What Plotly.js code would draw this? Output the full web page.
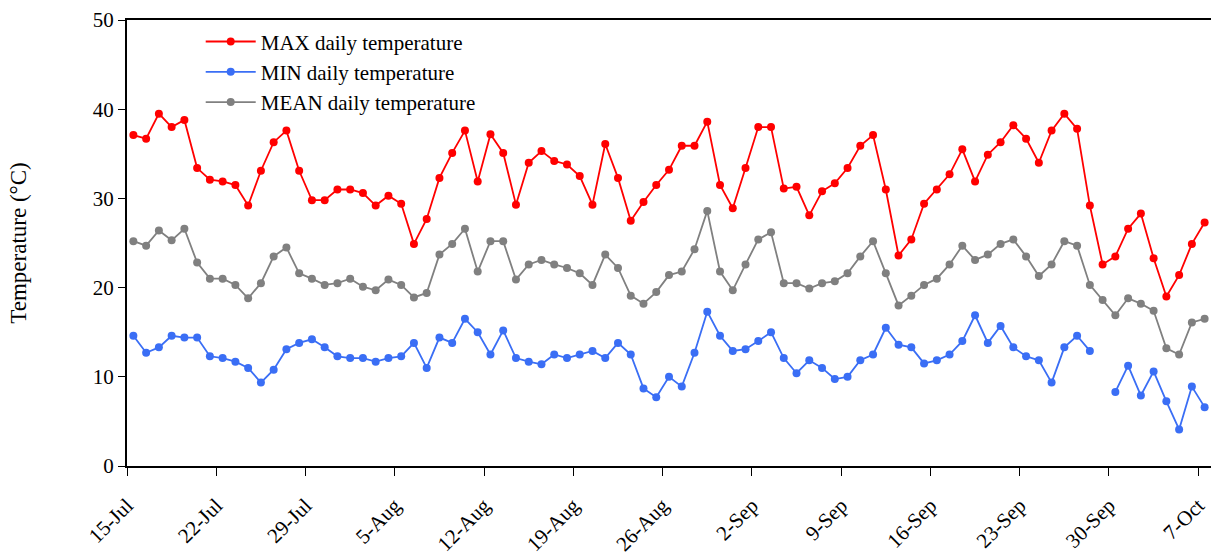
<!DOCTYPE html>
<html>
<head>
<meta charset="utf-8">
<script src="https://cdn.plot.ly/plotly-3.0.1.min.js"></script>
<style>html,body{margin:0;padding:0;background:#fff;}#chart{width:1211px;height:558px;}</style>
</head>
<body>
<div id="chart"></div>
<script>
// Daily series 15-Jul .. 7-Oct (85 days)
const startDate = '2023-07-15';
const nDays = 85;

const maxTemp = [37.1, 36.7, 39.5, 38.0, 38.8, 33.4, 32.1, 31.9, 31.5, 29.2, 33.1, 36.3, 37.6, 33.1, 29.8,
  29.8, 31.0, 31.0, 30.6, 29.2, 30.3, 29.4, 24.9, 27.7, 32.3, 35.1, 37.6, 31.9, 37.2,
  35.1, 29.3, 34.0, 35.3, 34.2, 33.8, 32.5, 29.3, 36.1, 32.3, 27.5, 29.6, 31.5, 33.2,
  35.9, 35.9, 38.6, 31.5, 28.9, 33.4, 38.0, 38.0, 31.1, 31.3, 28.1, 30.8, 31.7, 33.4,
  35.9, 37.1, 31.0, 23.6, 25.4, 29.4, 31.0, 32.7, 35.5, 31.9, 34.9, 36.3, 38.2, 36.7,
  34.0, 37.6, 39.5, 37.8, 29.2, 22.6, 23.5, 26.6, 28.3, 23.3, 19.0, 21.4, 24.9, 27.3];

const minTemp = [14.6, 12.7, 13.3, 14.6, 14.4, 14.4, 12.3, 12.1, 11.7, 11.0, 9.35, 10.8, 13.1, 13.8, 14.2,
  13.3, 12.3, 12.1, 12.1, 11.7, 12.1, 12.3, 13.8, 11.0, 14.4, 13.8, 16.5, 15.0, 12.5,
  15.2, 12.1, 11.7, 11.4, 12.5, 12.1, 12.5, 12.9, 12.1, 13.8, 12.5, 8.7, 7.7, 10.0,
  8.9, 12.7, 17.3, 14.6, 12.9, 13.1, 14.0, 15.0, 12.1, 10.4, 11.85, 11.0, 9.75, 10.0,
  11.85, 12.5, 15.5, 13.6, 13.3, 11.5, 11.85, 12.5, 14.0, 16.9, 13.8, 15.7, 13.3, 12.3,
  11.85, 9.35, 13.3, 14.6, 12.9, null, 8.3, 11.25, 7.9, 10.6, 7.25, 4.1, 8.9, 6.6];

const meanTemp = [25.2, 24.7, 26.4, 25.3, 26.6, 22.8, 21.0, 21.0, 20.3, 18.8, 20.5, 23.5, 24.5, 21.6, 21.0,
  20.3, 20.5, 21.0, 20.1, 19.7, 20.9, 20.3, 18.9, 19.4, 23.7, 24.9, 26.6, 21.8, 25.2,
  25.2, 20.9, 22.6, 23.1, 22.6, 22.2, 21.6, 20.3, 23.7, 22.2, 19.1, 18.2, 19.5, 21.4,
  21.8, 24.3, 28.6, 21.8, 19.7, 22.6, 25.4, 26.2, 20.5, 20.5, 19.9, 20.5, 20.7, 21.6,
  23.5, 25.2, 21.6, 18.0, 19.1, 20.3, 21.0, 22.6, 24.7, 23.1, 23.7, 24.9, 25.4, 23.5,
  21.3, 22.6, 25.2, 24.7, 20.3, 18.6, 16.9, 18.8, 18.2, 17.4, 13.2, 12.5, 16.1, 16.5];

const tickDates = ['2023-07-15','2023-07-22','2023-07-29','2023-08-05','2023-08-12','2023-08-19','2023-08-26',
  '2023-09-02','2023-09-09','2023-09-16','2023-09-23','2023-09-30','2023-10-07'];
const tickLabels = ['15-Jul','22-Jul','29-Jul','5-Aug','12-Aug','19-Aug','26-Aug','2-Sep','9-Sep','16-Sep','23-Sep','30-Sep','7-Oct'];

// each day's point is centred in its day slot
const dates = [];
const d0 = new Date(startDate + 'T12:00:00Z');
for (let i = 0; i < nDays; i++) {
  const d = new Date(d0.getTime() + i * 86400000);
  dates.push(d.toISOString().slice(0, 10) + ' 12:00');
}

const serif = 'Liberation Serif, Times New Roman, serif';

const mk = (name, y, color) => ({
  x: dates, y: y, name: name, type: 'scatter', mode: 'lines+markers',
  connectgaps: false,
  line: {color: color, width: 1.8},
  marker: {color: color, size: 8, symbol: 'circle'}
});

const traces = [
  mk('MAX daily temperature', maxTemp, '#FF0000'),
  mk('MIN daily temperature', minTemp, '#3A6EF5'),
  mk('MEAN daily temperature', meanTemp, '#808080')
];

const layout = {
  width: 1211, height: 558,
  margin: {l: 127, r: 0, t: 20, b: 92, pad: 0},
  paper_bgcolor: '#fff', plot_bgcolor: '#fff',
  font: {family: serif, size: 20, color: '#000'},
  showlegend: true,
  legend: {x: 0.068, y: 0.997, xanchor: 'left', yanchor: 'top', bgcolor: 'rgba(0,0,0,0)',
    font: {family: serif, size: 21, color: '#000'}, tracegroupgap: 0, itemwidth: 50},
  xaxis: {
    type: 'date', range: ['2023-07-15', '2023-10-08'],
    tickmode: 'array', tickvals: tickDates, ticktext: tickLabels,
    tickangle: -45, ticks: 'outside', ticklen: 8, tickwidth: 1, tickcolor: '#000',
    ticklabelstandoff: 9,
    showline: true, linecolor: '#000', linewidth: 2, mirror: true,
    showgrid: false, zeroline: false,
    tickfont: {family: serif, size: 21, color: '#000'}
  },
  yaxis: {
    range: [0, 50], dtick: 10, tick0: 0,
    ticks: 'outside', ticklen: 7, tickwidth: 1, tickcolor: '#000',
    showline: true, linecolor: '#000', linewidth: 2, mirror: true,
    showgrid: false, zeroline: false,
    tickfont: {family: serif, size: 21, color: '#000'},
    title: {text: 'Temperature (°C)', font: {family: serif, size: 23, color: '#000'}, standoff: 60}
  }
};

Plotly.newPlot('chart', traces, layout, {displayModeBar: false, staticPlot: true});
</script>
</body>
</html>
